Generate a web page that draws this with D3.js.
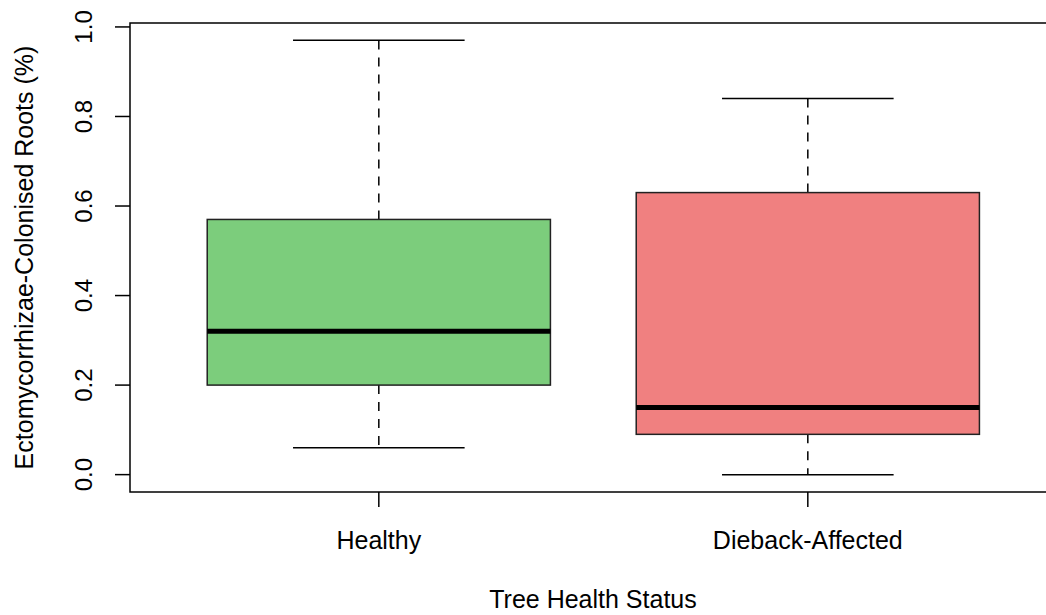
<!DOCTYPE html>
<html>
<head>
<meta charset="utf-8">
<script src="https://cdn.jsdelivr.net/npm/d3@7"></script>
<style>
	body { margin: 0; background: #fff; }
	text { font-family: "Liberation Sans", Arial, sans-serif; fill: #000; }
</style>
</head>
<body>
<div id="chart"></div>
<script>
'use strict';

// box statistics
var groups = ['Healthy', 'Dieback-Affected'];
var mins = [0.06, 0.00];
var q1s = [0.20, 0.09];
var medians = [0.32, 0.15];
var q3s = [0.57, 0.63];
var maxs = [0.97, 0.84];
var fills = ['#7ccd7c', '#f08080'];
var yTicks = [0, 0.2, 0.4, 0.6, 0.8, 1.0];

(function(){
	var W = 1046, H = 615;
	var marginLeft = 130, plotTop = 23, plotBottom = 492;

	var svg = d3.select('#chart').append('svg')
		.attr('width', W)
		.attr('height', H);

	// R style usr extents: 4% padding on each side
	var x = d3.scaleLinear().domain([0.42, 2.58]).range([marginLeft, marginLeft + 2.16 * 429]);
	var y = d3.scaleLinear().domain([-0.0388, 1.0088]).range([plotBottom, plotTop]);

	var data = groups.map(function(g, i){
		return {name: g, pos: i + 1, min: mins[i], q1: q1s[i], med: medians[i], q3: q3s[i], max: maxs[i], fill: fills[i]};
	});

	var boxHalf = 0.4, capHalf = 0.2;

	var box = svg.append('g').attr('class', 'boxes')
		.selectAll('g.box').data(data).enter().append('g').attr('class', 'box');

	// whiskers (dashed)
	[['q3', 'max'], ['q1', 'min']].forEach(function(k){
		box.append('line')
			.attr('x1', function(d){ return x(d.pos); })
			.attr('x2', function(d){ return x(d.pos); })
			.attr('y1', function(d){ return y(d[k[0]]); })
			.attr('y2', function(d){ return y(d[k[1]]); })
			.attr('stroke', '#000').attr('stroke-width', 1.5).attr('stroke-dasharray', '9,8');
	});

	// caps
	['min', 'max'].forEach(function(k){
		box.append('line')
			.attr('x1', function(d){ return x(d.pos - capHalf); })
			.attr('x2', function(d){ return x(d.pos + capHalf); })
			.attr('y1', function(d){ return y(d[k]); })
			.attr('y2', function(d){ return y(d[k]); })
			.attr('stroke', '#000').attr('stroke-width', 1.5);
	});

	// box
	box.append('rect')
		.attr('x', function(d){ return x(d.pos - boxHalf); })
		.attr('width', function(d){ return x(d.pos + boxHalf) - x(d.pos - boxHalf); })
		.attr('y', function(d){ return y(d.q3); })
		.attr('height', function(d){ return y(d.q1) - y(d.q3); })
		.attr('fill', function(d){ return d.fill; })
		.attr('stroke', '#222').attr('stroke-width', 1.5);

	// median
	box.append('line')
		.attr('x1', function(d){ return x(d.pos - boxHalf); })
		.attr('x2', function(d){ return x(d.pos + boxHalf); })
		.attr('y1', function(d){ return y(d.med); })
		.attr('y2', function(d){ return y(d.med); })
		.attr('stroke', '#000').attr('stroke-width', 5);

	// plot frame
	svg.append('rect')
		.attr('x', marginLeft).attr('y', plotTop)
		.attr('width', x.range()[1] - marginLeft).attr('height', plotBottom - plotTop)
		.attr('fill', 'none').attr('stroke', '#000').attr('stroke-width', 1.5);

	// y axis
	var yAxis = svg.append('g').attr('class', 'axis y');
	yAxis.selectAll('line').data(yTicks).enter().append('line')
		.attr('x1', marginLeft - 15).attr('x2', marginLeft)
		.attr('y1', function(d){ return y(d); })
		.attr('y2', function(d){ return y(d); })
		.attr('stroke', '#000').attr('stroke-width', 1.5);
	yAxis.selectAll('text').data(yTicks).enter().append('text')
		.attr('transform', function(d){ return 'translate(92,' + y(d) + ') rotate(-90)'; })
		.attr('text-anchor', 'middle')
		.attr('font-size', 24)
		.text(function(d){ return d3.format('.1f')(d); });

	// x axis
	var xAxis = svg.append('g').attr('class', 'axis x');
	xAxis.selectAll('line').data(data).enter().append('line')
		.attr('x1', function(d){ return x(d.pos); })
		.attr('x2', function(d){ return x(d.pos); })
		.attr('y1', plotBottom).attr('y2', plotBottom + 15)
		.attr('stroke', '#000').attr('stroke-width', 1.5);
	xAxis.selectAll('text').data(data).enter().append('text')
		.attr('x', function(d){ return x(d.pos); })
		.attr('y', 549)
		.attr('text-anchor', 'middle')
		.attr('font-size', 25)
		.text(function(d){ return d.name; });

	// axis titles
	svg.append('text')
		.attr('x', 593).attr('y', 608)
		.attr('text-anchor', 'middle')
		.attr('font-size', 25)
		.text('Tree Health Status');

	svg.append('text')
		.attr('transform', 'translate(33,' + ((plotTop + plotBottom) / 2) + ') rotate(-90)')
		.attr('text-anchor', 'middle')
		.attr('font-size', 25)
		.text('Ectomycorrhizae-Colonised Roots (%)');
})();
</script>
</body>
</html>
